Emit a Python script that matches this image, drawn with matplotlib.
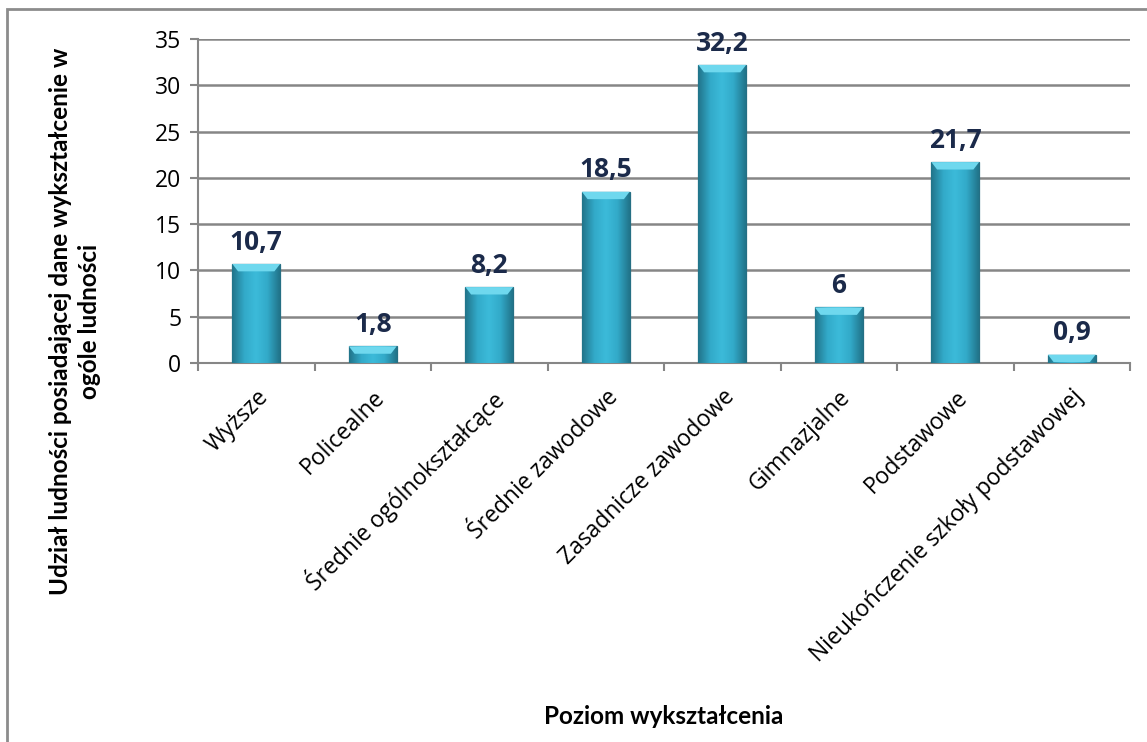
import numpy as np
from matplotlib import pyplot as plt
from matplotlib import patches
from matplotlib.colors import LinearSegmentedColormap

# data
CATEGORIES = ['Wyższe', 'Policealne', 'Średnie ogólnokształcące', 'Średnie zawodowe',
              'Zasadnicze zawodowe', 'Gimnazjalne', 'Podstawowe',
              'Nieukończenie szkoły podstawowej']
VALUES = [10.7, 1.8, 8.2, 18.5, 32.2, 6, 21.7, 0.9]
LABELS = ['10,7', '1,8', '8,2', '18,5', '32,2', '6', '21,7', '0,9']
YTICKS = [0, 5, 10, 15, 20, 25, 30, 35]

GRID = '#868686'
TXT = '#1B2A4A'
BOLD = ['Lato', 'DejaVu Sans']

plt.rcParams['font.family'] = ['Open Sans', 'DejaVu Sans']

W, H = 1147, 742
fig = plt.figure(figsize=(W / 100, H / 100), dpi=100)
ax = fig.add_axes([198 / W, 1 - 363 / H, (1130 - 198) / W, (363 - 39) / H])

x = np.arange(len(CATEGORIES))
bw = 0.41
bars = ax.bar(x, VALUES, bw, color='#37B2D2', edgecolor='#256F84',
              linewidth=0.9, zorder=3)

# shaded look: dark edges, light middle
cmap = LinearSegmentedColormap.from_list('bar', ['#21748A', '#32A9C8', '#3CBBDA',
                                                 '#32A9C8', '#21748A'])
grad = np.linspace(0, 1, 64).reshape(1, -1)
for rect in bars:
    x0, w, h = rect.get_x(), rect.get_width(), rect.get_height()
    im = ax.imshow(grad, extent=[x0, x0 + w, 0, h], aspect='auto', cmap=cmap,
                   interpolation='bicubic', zorder=3)
    im.set_clip_path(rect)
    # light bevel on the top
    d = min(0.8, h)
    inset = w * 0.12
    ax.add_patch(patches.Polygon([(x0, h), (x0 + w, h), (x0 + w - inset, h - d),
                                  (x0 + inset, h - d)], closed=True,
                                 facecolor='#6FD8EE', edgecolor='none', zorder=4))

for xi, v, lab in zip(x, VALUES, LABELS):
    ax.annotate(lab, (xi, v), xytext=(0, 6), textcoords='offset points',
                ha='center', va='bottom', fontsize=19, fontweight='bold',
                color=TXT, zorder=5)

ax.set_xlim(-0.5, len(CATEGORIES) - 0.5)
ax.set_ylim(0, 35)
ax.set_yticks(YTICKS)
ax.set_xticks(x)
ax.set_xticklabels(CATEGORIES, rotation=45, ha='right', rotation_mode='anchor',
                   fontsize=16.5)
ax.set_xticks(np.arange(len(CATEGORIES) + 1) - 0.5, minor=True)
ax.tick_params(axis='x', which='major', length=0, pad=16)
ax.tick_params(axis='x', which='minor', length=6, width=1.5, color=GRID)
ax.tick_params(axis='y', length=6, width=1.5, color=GRID, labelsize=16.5, pad=6)

ax.grid(axis='y', color=GRID, linewidth=1.8, zorder=0)
ax.set_axisbelow(True)
for s in ['top', 'right']:
    ax.spines[s].set_visible(False)
for s in ['left', 'bottom']:
    ax.spines[s].set_color(GRID)
    ax.spines[s].set_linewidth(1.5)

fig.text(75 / W, 1 - 321 / H,
         'Udział ludności posiadającej dane wykształcenie w\nogóle ludności',
         rotation=90, ha='center', va='center', multialignment='center',
         fontsize=17.5, fontweight='bold', family=BOLD, linespacing=1.3)
fig.text(664 / W, 1 - 717 / H, 'Poziom wykształcenia', ha='center', va='center',
         fontsize=17.5, fontweight='bold', family=BOLD)

# outer frame, cut off on the right and bottom like the source
fig.patches.append(patches.Rectangle((7 / W, -0.1), 1.2, 1.1 - 9 / H,
                                     transform=fig.transFigure, fill=False,
                                     edgecolor='#8C8C8C', linewidth=2))

fig.savefig('out.png', dpi=100)
